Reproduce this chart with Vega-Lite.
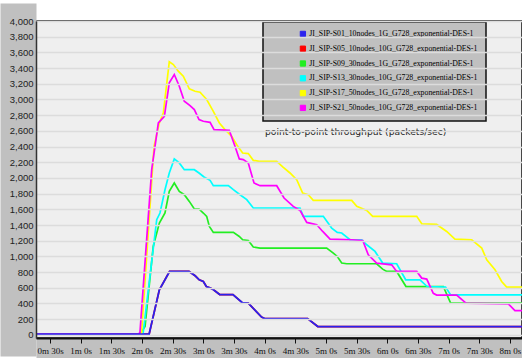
{
  "$schema": "https://vega.github.io/schema/vega-lite/v6.json",
  "width": 486,
  "height": 317,
  "autosize": {"type": "none"},
  "padding": {"left": 36, "top": 21, "right": 0, "bottom": 20},
  "background": "white",
  "config": {
    "view": {"fill": "#efefef", "stroke": "#111", "strokeWidth": 1.5},
    "font": "Liberation Sans"
  },
  "title": {
    "text": "point-to-point throughput (packets/sec)",
    "anchor": "start",
    "frame": "group",
    "dx": 229,
    "dy": 121,
    "offset": 0,
    "font": "DejaVu Sans",
    "fontSize": 9.2,
    "fontWeight": "normal",
    "color": "#222"
  },
  "datasets": {
    "d": [
      {"s": "JI_SIP-S01_10nodes_1G_G728_exponential-DES-1", "t": 16, "v": 10},
      {"s": "JI_SIP-S01_10nodes_1G_G728_exponential-DES-1", "t": 127, "v": 10},
      {"s": "JI_SIP-S01_10nodes_1G_G728_exponential-DES-1", "t": 137, "v": 574},
      {"s": "JI_SIP-S01_10nodes_1G_G728_exponential-DES-1", "t": 147, "v": 808},
      {"s": "JI_SIP-S01_10nodes_1G_G728_exponential-DES-1", "t": 166, "v": 808},
      {"s": "JI_SIP-S01_10nodes_1G_G728_exponential-DES-1", "t": 172, "v": 753},
      {"s": "JI_SIP-S01_10nodes_1G_G728_exponential-DES-1", "t": 176, "v": 702},
      {"s": "JI_SIP-S01_10nodes_1G_G728_exponential-DES-1", "t": 180, "v": 680},
      {"s": "JI_SIP-S01_10nodes_1G_G728_exponential-DES-1", "t": 183, "v": 616},
      {"s": "JI_SIP-S01_10nodes_1G_G728_exponential-DES-1", "t": 187, "v": 596},
      {"s": "JI_SIP-S01_10nodes_1G_G728_exponential-DES-1", "t": 190, "v": 574},
      {"s": "JI_SIP-S01_10nodes_1G_G728_exponential-DES-1", "t": 196, "v": 514},
      {"s": "JI_SIP-S01_10nodes_1G_G728_exponential-DES-1", "t": 209, "v": 514},
      {"s": "JI_SIP-S01_10nodes_1G_G728_exponential-DES-1", "t": 218, "v": 412},
      {"s": "JI_SIP-S01_10nodes_1G_G728_exponential-DES-1", "t": 224, "v": 404},
      {"s": "JI_SIP-S01_10nodes_1G_G728_exponential-DES-1", "t": 237, "v": 226},
      {"s": "JI_SIP-S01_10nodes_1G_G728_exponential-DES-1", "t": 240, "v": 208},
      {"s": "JI_SIP-S01_10nodes_1G_G728_exponential-DES-1", "t": 282, "v": 208},
      {"s": "JI_SIP-S01_10nodes_1G_G728_exponential-DES-1", "t": 292, "v": 106},
      {"s": "JI_SIP-S01_10nodes_1G_G728_exponential-DES-1", "t": 492, "v": 106},

      {"s": "JI_SIP-S05_10nodes_10G_G728_exponential-DES-1", "t": 16, "v": 10},
      {"s": "JI_SIP-S05_10nodes_10G_G728_exponential-DES-1", "t": 127, "v": 10},
      {"s": "JI_SIP-S05_10nodes_10G_G728_exponential-DES-1", "t": 137, "v": 574},
      {"s": "JI_SIP-S05_10nodes_10G_G728_exponential-DES-1", "t": 147, "v": 808},
      {"s": "JI_SIP-S05_10nodes_10G_G728_exponential-DES-1", "t": 166, "v": 808},
      {"s": "JI_SIP-S05_10nodes_10G_G728_exponential-DES-1", "t": 172, "v": 753},
      {"s": "JI_SIP-S05_10nodes_10G_G728_exponential-DES-1", "t": 176, "v": 702},
      {"s": "JI_SIP-S05_10nodes_10G_G728_exponential-DES-1", "t": 180, "v": 680},
      {"s": "JI_SIP-S05_10nodes_10G_G728_exponential-DES-1", "t": 183, "v": 616},
      {"s": "JI_SIP-S05_10nodes_10G_G728_exponential-DES-1", "t": 187, "v": 596},
      {"s": "JI_SIP-S05_10nodes_10G_G728_exponential-DES-1", "t": 190, "v": 574},
      {"s": "JI_SIP-S05_10nodes_10G_G728_exponential-DES-1", "t": 196, "v": 514},
      {"s": "JI_SIP-S05_10nodes_10G_G728_exponential-DES-1", "t": 209, "v": 514},
      {"s": "JI_SIP-S05_10nodes_10G_G728_exponential-DES-1", "t": 218, "v": 412},
      {"s": "JI_SIP-S05_10nodes_10G_G728_exponential-DES-1", "t": 224, "v": 404},
      {"s": "JI_SIP-S05_10nodes_10G_G728_exponential-DES-1", "t": 237, "v": 226},
      {"s": "JI_SIP-S05_10nodes_10G_G728_exponential-DES-1", "t": 240, "v": 208},
      {"s": "JI_SIP-S05_10nodes_10G_G728_exponential-DES-1", "t": 282, "v": 208},
      {"s": "JI_SIP-S05_10nodes_10G_G728_exponential-DES-1", "t": 292, "v": 106},
      {"s": "JI_SIP-S05_10nodes_10G_G728_exponential-DES-1", "t": 492, "v": 106},

      {"s": "JI_SIP-S09_30nodes_1G_G728_exponential-DES-1", "t": 16, "v": 10},
      {"s": "JI_SIP-S09_30nodes_1G_G728_exponential-DES-1", "t": 118, "v": 10},
      {"s": "JI_SIP-S09_30nodes_1G_G728_exponential-DES-1", "t": 123, "v": 106},
      {"s": "JI_SIP-S09_30nodes_1G_G728_exponential-DES-1", "t": 131, "v": 1127},
      {"s": "JI_SIP-S09_30nodes_1G_G728_exponential-DES-1", "t": 137, "v": 1425},
      {"s": "JI_SIP-S09_30nodes_1G_G728_exponential-DES-1", "t": 142.5, "v": 1553},
      {"s": "JI_SIP-S09_30nodes_1G_G728_exponential-DES-1", "t": 146.7, "v": 1829},
      {"s": "JI_SIP-S09_30nodes_1G_G728_exponential-DES-1", "t": 151.6, "v": 1936},
      {"s": "JI_SIP-S09_30nodes_1G_G728_exponential-DES-1", "t": 156.5, "v": 1829},
      {"s": "JI_SIP-S09_30nodes_1G_G728_exponential-DES-1", "t": 161.4, "v": 1786},
      {"s": "JI_SIP-S09_30nodes_1G_G728_exponential-DES-1", "t": 166.3, "v": 1701},
      {"s": "JI_SIP-S09_30nodes_1G_G728_exponential-DES-1", "t": 171.2, "v": 1604},
      {"s": "JI_SIP-S09_30nodes_1G_G728_exponential-DES-1", "t": 175.8, "v": 1604},
      {"s": "JI_SIP-S09_30nodes_1G_G728_exponential-DES-1", "t": 180, "v": 1553},
      {"s": "JI_SIP-S09_30nodes_1G_G728_exponential-DES-1", "t": 183.3, "v": 1510},
      {"s": "JI_SIP-S09_30nodes_1G_G728_exponential-DES-1", "t": 185.9, "v": 1382},
      {"s": "JI_SIP-S09_30nodes_1G_G728_exponential-DES-1", "t": 189.8, "v": 1306},
      {"s": "JI_SIP-S09_30nodes_1G_G728_exponential-DES-1", "t": 209.4, "v": 1306},
      {"s": "JI_SIP-S09_30nodes_1G_G728_exponential-DES-1", "t": 215.2, "v": 1254},
      {"s": "JI_SIP-S09_30nodes_1G_G728_exponential-DES-1", "t": 218.5, "v": 1212},
      {"s": "JI_SIP-S09_30nodes_1G_G728_exponential-DES-1", "t": 224, "v": 1203},
      {"s": "JI_SIP-S09_30nodes_1G_G728_exponential-DES-1", "t": 228.9, "v": 1119},
      {"s": "JI_SIP-S09_30nodes_1G_G728_exponential-DES-1", "t": 235.5, "v": 1106},
      {"s": "JI_SIP-S09_30nodes_1G_G728_exponential-DES-1", "t": 300.7, "v": 1106},
      {"s": "JI_SIP-S09_30nodes_1G_G728_exponential-DES-1", "t": 307.2, "v": 1042},
      {"s": "JI_SIP-S09_30nodes_1G_G728_exponential-DES-1", "t": 311.1, "v": 999},
      {"s": "JI_SIP-S09_30nodes_1G_G728_exponential-DES-1", "t": 315.4, "v": 915},
      {"s": "JI_SIP-S09_30nodes_1G_G728_exponential-DES-1", "t": 320.3, "v": 906},
      {"s": "JI_SIP-S09_30nodes_1G_G728_exponential-DES-1", "t": 349.6, "v": 906},
      {"s": "JI_SIP-S09_30nodes_1G_G728_exponential-DES-1", "t": 355.5, "v": 838},
      {"s": "JI_SIP-S09_30nodes_1G_G728_exponential-DES-1", "t": 359.4, "v": 808},
      {"s": "JI_SIP-S09_30nodes_1G_G728_exponential-DES-1", "t": 369.2, "v": 808},
      {"s": "JI_SIP-S09_30nodes_1G_G728_exponential-DES-1", "t": 378.3, "v": 616},
      {"s": "JI_SIP-S09_30nodes_1G_G728_exponential-DES-1", "t": 414.8, "v": 616},
      {"s": "JI_SIP-S09_30nodes_1G_G728_exponential-DES-1", "t": 422, "v": 404},
      {"s": "JI_SIP-S09_30nodes_1G_G728_exponential-DES-1", "t": 492, "v": 404},

      {"s": "JI_SIP-S13_30nodes_10G_G728_exponential-DES-1", "t": 16, "v": 10},
      {"s": "JI_SIP-S13_30nodes_10G_G728_exponential-DES-1", "t": 121, "v": 10},
      {"s": "JI_SIP-S13_30nodes_10G_G728_exponential-DES-1", "t": 134.4, "v": 1467},
      {"s": "JI_SIP-S13_30nodes_10G_G728_exponential-DES-1", "t": 137.6, "v": 1553},
      {"s": "JI_SIP-S13_30nodes_10G_G728_exponential-DES-1", "t": 142.5, "v": 1850},
      {"s": "JI_SIP-S13_30nodes_10G_G728_exponential-DES-1", "t": 146.7, "v": 2063},
      {"s": "JI_SIP-S13_30nodes_10G_G728_exponential-DES-1", "t": 151.6, "v": 2242},
      {"s": "JI_SIP-S13_30nodes_10G_G728_exponential-DES-1", "t": 156.5, "v": 2191},
      {"s": "JI_SIP-S13_30nodes_10G_G728_exponential-DES-1", "t": 161.4, "v": 2105},
      {"s": "JI_SIP-S13_30nodes_10G_G728_exponential-DES-1", "t": 171.2, "v": 2105},
      {"s": "JI_SIP-S13_30nodes_10G_G728_exponential-DES-1", "t": 175.8, "v": 2063},
      {"s": "JI_SIP-S13_30nodes_10G_G728_exponential-DES-1", "t": 180.7, "v": 2012},
      {"s": "JI_SIP-S13_30nodes_10G_G728_exponential-DES-1", "t": 186.6, "v": 1969},
      {"s": "JI_SIP-S13_30nodes_10G_G728_exponential-DES-1", "t": 189.8, "v": 1901},
      {"s": "JI_SIP-S13_30nodes_10G_G728_exponential-DES-1", "t": 204.5, "v": 1901},
      {"s": "JI_SIP-S13_30nodes_10G_G728_exponential-DES-1", "t": 209.4, "v": 1850},
      {"s": "JI_SIP-S13_30nodes_10G_G728_exponential-DES-1", "t": 215.9, "v": 1786},
      {"s": "JI_SIP-S13_30nodes_10G_G728_exponential-DES-1", "t": 222.5, "v": 1723},
      {"s": "JI_SIP-S13_30nodes_10G_G728_exponential-DES-1", "t": 228.9, "v": 1617},
      {"s": "JI_SIP-S13_30nodes_10G_G728_exponential-DES-1", "t": 274.6, "v": 1617},
      {"s": "JI_SIP-S13_30nodes_10G_G728_exponential-DES-1", "t": 277.8, "v": 1510},
      {"s": "JI_SIP-S13_30nodes_10G_G728_exponential-DES-1", "t": 297.4, "v": 1510},
      {"s": "JI_SIP-S13_30nodes_10G_G728_exponential-DES-1", "t": 305.6, "v": 1361},
      {"s": "JI_SIP-S13_30nodes_10G_G728_exponential-DES-1", "t": 311.1, "v": 1306},
      {"s": "JI_SIP-S13_30nodes_10G_G728_exponential-DES-1", "t": 315.4, "v": 1298},
      {"s": "JI_SIP-S13_30nodes_10G_G728_exponential-DES-1", "t": 323.5, "v": 1212},
      {"s": "JI_SIP-S13_30nodes_10G_G728_exponential-DES-1", "t": 335, "v": 1212},
      {"s": "JI_SIP-S13_30nodes_10G_G728_exponential-DES-1", "t": 339.9, "v": 1148},
      {"s": "JI_SIP-S13_30nodes_10G_G728_exponential-DES-1", "t": 348, "v": 1063},
      {"s": "JI_SIP-S13_30nodes_10G_G728_exponential-DES-1", "t": 355.5, "v": 915},
      {"s": "JI_SIP-S13_30nodes_10G_G728_exponential-DES-1", "t": 369.2, "v": 906},
      {"s": "JI_SIP-S13_30nodes_10G_G728_exponential-DES-1", "t": 378, "v": 702},
      {"s": "JI_SIP-S13_30nodes_10G_G728_exponential-DES-1", "t": 392, "v": 702},
      {"s": "JI_SIP-S13_30nodes_10G_G728_exponential-DES-1", "t": 399, "v": 616},
      {"s": "JI_SIP-S13_30nodes_10G_G728_exponential-DES-1", "t": 417, "v": 609},
      {"s": "JI_SIP-S13_30nodes_10G_G728_exponential-DES-1", "t": 422, "v": 510},
      {"s": "JI_SIP-S13_30nodes_10G_G728_exponential-DES-1", "t": 492, "v": 510},

      {"s": "JI_SIP-S17_50nodes_1G_G728_exponential-DES-1", "t": 16, "v": 10},
      {"s": "JI_SIP-S17_50nodes_1G_G728_exponential-DES-1", "t": 119.5, "v": 10},
      {"s": "JI_SIP-S17_50nodes_1G_G728_exponential-DES-1", "t": 131.8, "v": 2403},
      {"s": "JI_SIP-S17_50nodes_1G_G728_exponential-DES-1", "t": 137, "v": 2701},
      {"s": "JI_SIP-S17_50nodes_1G_G728_exponential-DES-1", "t": 140.9, "v": 2829},
      {"s": "JI_SIP-S17_50nodes_1G_G728_exponential-DES-1", "t": 146.7, "v": 3480},
      {"s": "JI_SIP-S17_50nodes_1G_G728_exponential-DES-1", "t": 150.7, "v": 3445},
      {"s": "JI_SIP-S17_50nodes_1G_G728_exponential-DES-1", "t": 155.5, "v": 3360},
      {"s": "JI_SIP-S17_50nodes_1G_G728_exponential-DES-1", "t": 160.4, "v": 3296},
      {"s": "JI_SIP-S17_50nodes_1G_G728_exponential-DES-1", "t": 166.3, "v": 3135},
      {"s": "JI_SIP-S17_50nodes_1G_G728_exponential-DES-1", "t": 171.9, "v": 3105},
      {"s": "JI_SIP-S17_50nodes_1G_G728_exponential-DES-1", "t": 176.8, "v": 3092},
      {"s": "JI_SIP-S17_50nodes_1G_G728_exponential-DES-1", "t": 183.3, "v": 2999},
      {"s": "JI_SIP-S17_50nodes_1G_G728_exponential-DES-1", "t": 189.8, "v": 2849},
      {"s": "JI_SIP-S17_50nodes_1G_G728_exponential-DES-1", "t": 195.7, "v": 2701},
      {"s": "JI_SIP-S17_50nodes_1G_G728_exponential-DES-1", "t": 201.2, "v": 2616},
      {"s": "JI_SIP-S17_50nodes_1G_G728_exponential-DES-1", "t": 207.8, "v": 2530},
      {"s": "JI_SIP-S17_50nodes_1G_G728_exponential-DES-1", "t": 212.7, "v": 2424},
      {"s": "JI_SIP-S17_50nodes_1G_G728_exponential-DES-1", "t": 218.5, "v": 2318},
      {"s": "JI_SIP-S17_50nodes_1G_G728_exponential-DES-1", "t": 224, "v": 2310},
      {"s": "JI_SIP-S17_50nodes_1G_G728_exponential-DES-1", "t": 228.9, "v": 2224},
      {"s": "JI_SIP-S17_50nodes_1G_G728_exponential-DES-1", "t": 234.8, "v": 2211},
      {"s": "JI_SIP-S17_50nodes_1G_G728_exponential-DES-1", "t": 251.8, "v": 2211},
      {"s": "JI_SIP-S17_50nodes_1G_G728_exponential-DES-1", "t": 257.7, "v": 2140},
      {"s": "JI_SIP-S17_50nodes_1G_G728_exponential-DES-1", "t": 264.8, "v": 2063},
      {"s": "JI_SIP-S17_50nodes_1G_G728_exponential-DES-1", "t": 271.4, "v": 1978},
      {"s": "JI_SIP-S17_50nodes_1G_G728_exponential-DES-1", "t": 277.2, "v": 1808},
      {"s": "JI_SIP-S17_50nodes_1G_G728_exponential-DES-1", "t": 282.7, "v": 1786},
      {"s": "JI_SIP-S17_50nodes_1G_G728_exponential-DES-1", "t": 287.6, "v": 1714},
      {"s": "JI_SIP-S17_50nodes_1G_G728_exponential-DES-1", "t": 325.2, "v": 1714},
      {"s": "JI_SIP-S17_50nodes_1G_G728_exponential-DES-1", "t": 330.1, "v": 1637},
      {"s": "JI_SIP-S17_50nodes_1G_G728_exponential-DES-1", "t": 339.9, "v": 1586},
      {"s": "JI_SIP-S17_50nodes_1G_G728_exponential-DES-1", "t": 345.7, "v": 1510},
      {"s": "JI_SIP-S17_50nodes_1G_G728_exponential-DES-1", "t": 388.8, "v": 1510},
      {"s": "JI_SIP-S17_50nodes_1G_G728_exponential-DES-1", "t": 393.7, "v": 1416},
      {"s": "JI_SIP-S17_50nodes_1G_G728_exponential-DES-1", "t": 408.3, "v": 1407},
      {"s": "JI_SIP-S17_50nodes_1G_G728_exponential-DES-1", "t": 418.1, "v": 1318},
      {"s": "JI_SIP-S17_50nodes_1G_G728_exponential-DES-1", "t": 426.2, "v": 1221},
      {"s": "JI_SIP-S17_50nodes_1G_G728_exponential-DES-1", "t": 442.6, "v": 1212},
      {"s": "JI_SIP-S17_50nodes_1G_G728_exponential-DES-1", "t": 452.4, "v": 1106},
      {"s": "JI_SIP-S17_50nodes_1G_G728_exponential-DES-1", "t": 457.3, "v": 957},
      {"s": "JI_SIP-S17_50nodes_1G_G728_exponential-DES-1", "t": 465.4, "v": 829},
      {"s": "JI_SIP-S17_50nodes_1G_G728_exponential-DES-1", "t": 471.9, "v": 680},
      {"s": "JI_SIP-S17_50nodes_1G_G728_exponential-DES-1", "t": 476.8, "v": 609},
      {"s": "JI_SIP-S17_50nodes_1G_G728_exponential-DES-1", "t": 492, "v": 609},

      {"s": "JI_SIP-S21_50nodes_10G_G728_exponential-DES-1", "t": 16, "v": 10},
      {"s": "JI_SIP-S21_50nodes_10G_G728_exponential-DES-1", "t": 116.5, "v": 10},
      {"s": "JI_SIP-S21_50nodes_10G_G728_exponential-DES-1", "t": 118, "v": 30},
      {"s": "JI_SIP-S21_50nodes_10G_G728_exponential-DES-1", "t": 129.5, "v": 2105},
      {"s": "JI_SIP-S21_50nodes_10G_G728_exponential-DES-1", "t": 136, "v": 2701},
      {"s": "JI_SIP-S21_50nodes_10G_G728_exponential-DES-1", "t": 141.9, "v": 2786},
      {"s": "JI_SIP-S21_50nodes_10G_G728_exponential-DES-1", "t": 146.7, "v": 3212},
      {"s": "JI_SIP-S21_50nodes_10G_G728_exponential-DES-1", "t": 151.6, "v": 3318},
      {"s": "JI_SIP-S21_50nodes_10G_G728_exponential-DES-1", "t": 156.5, "v": 3168},
      {"s": "JI_SIP-S21_50nodes_10G_G728_exponential-DES-1", "t": 161.4, "v": 2977},
      {"s": "JI_SIP-S21_50nodes_10G_G728_exponential-DES-1", "t": 167, "v": 2922},
      {"s": "JI_SIP-S21_50nodes_10G_G728_exponential-DES-1", "t": 171.2, "v": 2871},
      {"s": "JI_SIP-S21_50nodes_10G_G728_exponential-DES-1", "t": 175.8, "v": 2743},
      {"s": "JI_SIP-S21_50nodes_10G_G728_exponential-DES-1", "t": 180, "v": 2722},
      {"s": "JI_SIP-S21_50nodes_10G_G728_exponential-DES-1", "t": 186.6, "v": 2709},
      {"s": "JI_SIP-S21_50nodes_10G_G728_exponential-DES-1", "t": 190.5, "v": 2616},
      {"s": "JI_SIP-S21_50nodes_10G_G728_exponential-DES-1", "t": 205.4, "v": 2607},
      {"s": "JI_SIP-S21_50nodes_10G_G728_exponential-DES-1", "t": 211, "v": 2403},
      {"s": "JI_SIP-S21_50nodes_10G_G728_exponential-DES-1", "t": 215.2, "v": 2242},
      {"s": "JI_SIP-S21_50nodes_10G_G728_exponential-DES-1", "t": 219.1, "v": 2233},
      {"s": "JI_SIP-S21_50nodes_10G_G728_exponential-DES-1", "t": 224, "v": 2191},
      {"s": "JI_SIP-S21_50nodes_10G_G728_exponential-DES-1", "t": 229.6, "v": 1936},
      {"s": "JI_SIP-S21_50nodes_10G_G728_exponential-DES-1", "t": 235.5, "v": 1901},
      {"s": "JI_SIP-S21_50nodes_10G_G728_exponential-DES-1", "t": 251.8, "v": 1901},
      {"s": "JI_SIP-S21_50nodes_10G_G728_exponential-DES-1", "t": 259, "v": 1744},
      {"s": "JI_SIP-S21_50nodes_10G_G728_exponential-DES-1", "t": 268, "v": 1637},
      {"s": "JI_SIP-S21_50nodes_10G_G728_exponential-DES-1", "t": 274.6, "v": 1586},
      {"s": "JI_SIP-S21_50nodes_10G_G728_exponential-DES-1", "t": 281.2, "v": 1433},
      {"s": "JI_SIP-S21_50nodes_10G_G728_exponential-DES-1", "t": 291, "v": 1404},
      {"s": "JI_SIP-S21_50nodes_10G_G728_exponential-DES-1", "t": 296.8, "v": 1318},
      {"s": "JI_SIP-S21_50nodes_10G_G728_exponential-DES-1", "t": 304, "v": 1221},
      {"s": "JI_SIP-S21_50nodes_10G_G728_exponential-DES-1", "t": 325.2, "v": 1212},
      {"s": "JI_SIP-S21_50nodes_10G_G728_exponential-DES-1", "t": 336, "v": 1203},
      {"s": "JI_SIP-S21_50nodes_10G_G728_exponential-DES-1", "t": 341.4, "v": 1021},
      {"s": "JI_SIP-S21_50nodes_10G_G728_exponential-DES-1", "t": 349.6, "v": 915},
      {"s": "JI_SIP-S21_50nodes_10G_G728_exponential-DES-1", "t": 364.3, "v": 893},
      {"s": "JI_SIP-S21_50nodes_10G_G728_exponential-DES-1", "t": 369.2, "v": 808},
      {"s": "JI_SIP-S21_50nodes_10G_G728_exponential-DES-1", "t": 388.8, "v": 808},
      {"s": "JI_SIP-S21_50nodes_10G_G728_exponential-DES-1", "t": 393.7, "v": 723},
      {"s": "JI_SIP-S21_50nodes_10G_G728_exponential-DES-1", "t": 398.6, "v": 711},
      {"s": "JI_SIP-S21_50nodes_10G_G728_exponential-DES-1", "t": 405, "v": 530},
      {"s": "JI_SIP-S21_50nodes_10G_G728_exponential-DES-1", "t": 408.3, "v": 507},
      {"s": "JI_SIP-S21_50nodes_10G_G728_exponential-DES-1", "t": 427.9, "v": 507},
      {"s": "JI_SIP-S21_50nodes_10G_G728_exponential-DES-1", "t": 437, "v": 405},
      {"s": "JI_SIP-S21_50nodes_10G_G728_exponential-DES-1", "t": 478.4, "v": 396},
      {"s": "JI_SIP-S21_50nodes_10G_G728_exponential-DES-1", "t": 484.9, "v": 310},
      {"s": "JI_SIP-S21_50nodes_10G_G728_exponential-DES-1", "t": 492, "v": 310}
    ]
  },
  "data": {"name": "d"},
  "resolve": {"axis": {"x": "independent", "y": "independent"}},
  "layer": [
    {
      "transform": [{"filter": "indexof(datum.s, 'S05') >= 0"}],
      "mark": {"type": "line", "strokeWidth": 1.7, "clip": true},
      "encoding": {
        "x": {
          "field": "t", "type": "quantitative",
          "scale": {"domain": [16.3, 491.8], "nice": false, "zero": false},
          "axis": {"orient": "bottom", "domain": true, "domainColor": "#c0c0c0", "domainWidth": 20, "offset": 10, "ticks": false, "labels": false, "grid": false, "title": null, "zindex": 0}
        },
        "y": {
          "field": "v", "type": "quantitative",
          "scale": {"domain": [-40, 4000], "nice": false, "zero": false},
          "axis": {"orient": "left", "domain": true, "domainColor": "#c0c0c0", "domainWidth": 36, "domainCap": "square", "offset": 18, "ticks": false, "labels": false, "grid": false, "title": null, "zindex": 0}
        },
        "color": {
          "field": "s", "type": "nominal",
          "scale": {
            "domain": [
              "JI_SIP-S01_10nodes_1G_G728_exponential-DES-1",
              "JI_SIP-S05_10nodes_10G_G728_exponential-DES-1",
              "JI_SIP-S09_30nodes_1G_G728_exponential-DES-1",
              "JI_SIP-S13_30nodes_10G_G728_exponential-DES-1",
              "JI_SIP-S17_50nodes_1G_G728_exponential-DES-1",
              "JI_SIP-S21_50nodes_10G_G728_exponential-DES-1"
            ],
            "range": ["#2a22ee", "#ff0000", "#22ee22", "#00ffff", "#ffff00", "#ff00ff"]
          },
          "legend": {
            "orient": "none", "legendX": 227, "legendY": 1, "title": null,
            "fillColor": "#c0c0c0", "strokeColor": "#111", "padding": 8,
            "symbolType": "square", "symbolSize": 28, "symbolStrokeColor": "#000", "symbolStrokeWidth": 1, "symbolOffset": 28,
            "labelFont": "Liberation Sans Narrow", "labelFontSize": 7.8, "labelColor": "#000", "labelOffset": 2.5, "rowPadding": 4.8, "labelLimit": 300,
            "encode": {
              "symbols": {"update": {"fill": {"scale": "color", "field": "value"}, "stroke": {"value": "#000"}, "strokeWidth": {"value": 1}, "opacity": {"value": 1}}},
              "legend": {"update": {"strokeWidth": {"value": 1.5}}}
            }
          }
        }
      }
    },
    {
      "transform": [{"filter": "indexof(datum.s, 'S05') < 0 && indexof(datum.s, 'S01') < 0"}],
      "mark": {"type": "line", "strokeWidth": 1.7, "clip": true},
      "encoding": {
        "x": {
          "field": "t", "type": "quantitative",
          "scale": {"domain": [16.3, 491.8], "nice": false, "zero": false},
          "axis": {
            "orient": "bottom", "values": [30, 60, 90, 120, 150, 180, 210, 240, 270, 300, 330, 360, 390, 420, 450, 480],
            "labelExpr": "floor(datum.value / 60) + 'm ' + (datum.value % 60) + 's'",
            "domain": true, "domainColor": "#111", "domainWidth": 2,
            "ticks": true, "tickColor": "#111", "tickSize": 5, "tickWidth": 1,
            "labelFont": "Liberation Sans Narrow", "labelFontSize": 9, "labelColor": "#111", "labelPadding": 3, "labelBaseline": "top",
            "labelOverlap": false, "labelFlush": false, "labelBound": false,
            "grid": false, "title": null, "zindex": 1
          }
        },
        "y": {
          "field": "v", "type": "quantitative",
          "scale": {"domain": [-40, 4000], "nice": false, "zero": false},
          "axis": {
            "orient": "left", "values": [0, 200, 400, 600, 800, 1000, 1200, 1400, 1600, 1800, 2000, 2200, 2400, 2600, 2800, 3000, 3200, 3400, 3600, 3800, 4000],
            "format": ",d", "domain": true, "domainColor": "#333", "domainWidth": 1.5,
            "ticks": false, "labelPadding": 3, "labelFont": "Liberation Sans", "labelFontSize": 9.5, "labelColor": "#222",
            "labelOverlap": false, "labelBound": false,
            "grid": true, "gridColor": "#dcdcdc", "gridWidth": 1.5, "title": null, "zindex": 1
          }
        },
        "color": {"field": "s", "type": "nominal"}
      }
    },
    {
      "transform": [{"filter": "indexof(datum.s, 'S01') >= 0"}],
      "mark": {"type": "line", "strokeWidth": 1.8, "clip": true},
      "encoding": {
        "x": {"field": "t", "type": "quantitative", "scale": {"domain": [16.3, 491.8], "nice": false, "zero": false}, "axis": null},
        "y": {"field": "v", "type": "quantitative", "scale": {"domain": [-40, 4000], "nice": false, "zero": false}, "axis": null},
        "color": {"field": "s", "type": "nominal"}
      }
    }
  ]
}
